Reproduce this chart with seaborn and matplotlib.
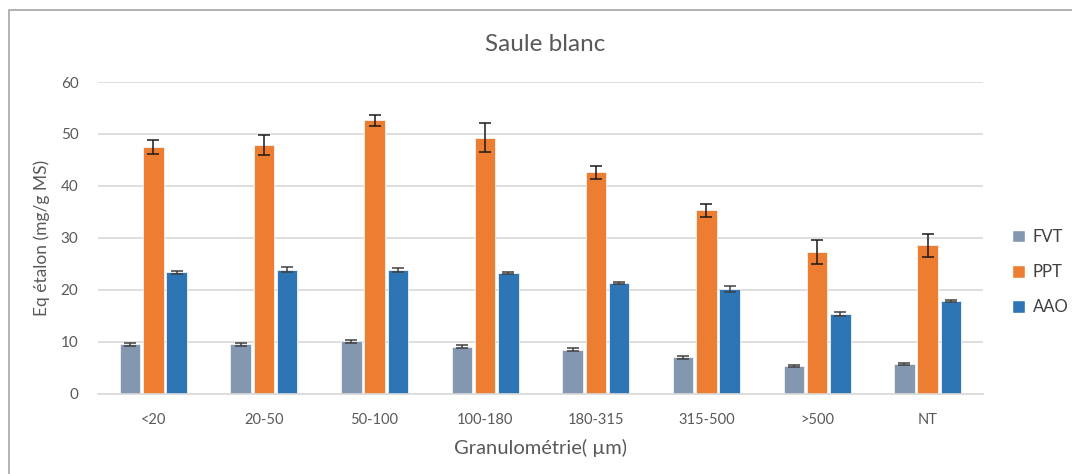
import numpy as np
import pandas as pd
import matplotlib.pyplot as plt
import matplotlib.patches as mpatches
import seaborn as sns

# data
categories = ["<20", "20-50", "50-100", "100-180", "180-315", "315-500", ">500", "NT"]
series = ["FVT", "PPT", "AAO"]
fvt = [9.6, 9.6, 10.1, 9.1, 8.5, 7.1, 5.3, 5.8]
fvt_err = [0.3, 0.3, 0.3, 0.3, 0.3, 0.3, 0.2, 0.2]
ppt = [47.5, 47.9, 52.6, 49.3, 42.6, 35.3, 27.3, 28.6]
ppt_err = [1.4, 2.0, 1.1, 2.8, 1.2, 1.2, 2.3, 2.2]
aao = [23.4, 23.9, 23.8, 23.2, 21.4, 20.2, 15.4, 17.9]
aao_err = [0.3, 0.5, 0.4, 0.2, 0.2, 0.6, 0.4, 0.2]
colors = ["#8497B0", "#ED7D31", "#2E75B6"]
err_colors = ["#404040", "#1a1a1a", "#404040"]

df = pd.DataFrame({
    "cat": categories * 3,
    "serie": [s for s in series for _ in categories],
    "val": fvt + ppt + aao,
})
errs = [fvt_err, ppt_err, aao_err]

sns.set_style("white")
plt.rcParams["font.family"] = ["Lato", "DejaVu Sans"]
text_col = "#595959"

fig = plt.figure(figsize=(10.72, 4.74), dpi=100)
ax = fig.add_axes([0.0914, 0.1688, 0.8256, 0.6582])

sns.barplot(data=df, x="cat", y="val", hue="serie", order=categories,
            hue_order=series, palette=colors, saturation=1, width=0.63, gap=0.12,
            edgecolor="#f2f2f2", linewidth=0.6, errorbar=None, ax=ax,
            legend=False)

# error bars at the bar centres
bar_conts = list(ax.containers)
for i, cont in enumerate(bar_conts):
    xs = [p.get_x() + p.get_width() / 2 for p in cont.patches]
    ys = [p.get_height() for p in cont.patches]
    ax.errorbar(xs, ys, yerr=errs[i], fmt="none", ecolor=err_colors[i],
                elinewidth=1.1, capsize=4.5, capthick=1.1, zorder=5)

ax.set_ylim(0, 60)
ax.set_yticks(range(0, 61, 10))
ax.set_xlim(-0.5, 7.5)
ax.grid(axis="y", color="#D9D9D9", linewidth=1.2)
ax.set_axisbelow(True)
for s in ["left", "right", "top"]:
    ax.spines[s].set_visible(False)
ax.spines["bottom"].set_color("#D9D9D9")
ax.spines["bottom"].set_linewidth(1.2)
ax.tick_params(axis="both", length=0, labelsize=11, colors=text_col)
ax.tick_params(axis="y", pad=14)
ax.tick_params(axis="x", pad=14, labelsize=10.5)

ax.set_xlabel("Granulométrie( µm)", fontsize=14.5, color=text_col, labelpad=8)
ax.set_ylabel("Eq étalon (mg/g MS)", fontsize=12.5, color=text_col, labelpad=8)
fig.text(0.509, 0.907, "Saule blanc", ha="center", va="center",
         fontsize=17.5, color=text_col)

handles = [mpatches.Patch(facecolor=c, label=s) for c, s in zip(colors, series)]
leg = fig.legend(handles=handles, loc="center left", bbox_to_anchor=(0.944, 0.426),
                 frameon=False, fontsize=12, labelspacing=1.15, handlelength=0.8,
                 handleheight=0.8, handletextpad=0.45, borderpad=0, borderaxespad=0)
for t in leg.get_texts():
    t.set_color("#404040")

# chart border
fig.add_artist(mpatches.Rectangle((9 / 1072, -0.05), 1.2, 1 - 10 / 474 + 0.05,
                                  transform=fig.transFigure, fill=False,
                                  edgecolor="#A6A6A6", linewidth=1.2))

fig.savefig("out.png", dpi=100)
